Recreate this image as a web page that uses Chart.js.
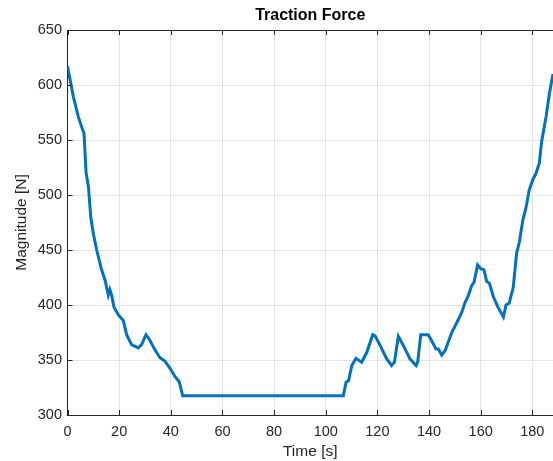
<!DOCTYPE html>
<html>
<head>
<meta charset="utf-8">
<script src="https://cdn.jsdelivr.net/npm/chart.js@4.4.1/dist/chart.umd.min.js"></script>
<style>
html,body{margin:0;padding:0;background:#fff;}
#wrap{width:553px;height:461px;position:relative;}
</style>
</head>
<body>
<div id="wrap"><canvas id="c" width="553" height="461"></canvas></div>
<script>
const timeS = [0,2.3,4.2,5.9,6.4,7.2,8.1,9.0,10.0,11.3,13.2,14.5,15.8,16.4,17.1,18.0,19.7,21.6,22.9,24.8,27.4,28.7,30.4,31.9,33.9,35.8,37.7,39.7,41.6,43.3,44.6,
  106.8,107.9,108.8,110.1,111.7,113.9,115.9,118.2,119.1,121.0,123.6,125.5,126.6,128.1,130.1,132.6,135.0,135.6,136.8,139.7,141.0,142.7,143.6,144.9,146.2,148.8,151.4,152.6,153.9,155.2,156.5,157.4,158.8,160.0,161.3,162.3,163.4,164.9,166.7,168.8,169.8,171.0,172.6,173.9,175.0,176.3,177.5,178.8,180.1,181.4,182.7,183.6,185.3,186.6,188.0];
const forceN = [617,589,571,559,556,520,508,480,465,450,432,423,409,414,409,398,391,386,373,364,361,364,373,368,359,352,349,342.5,335,330,317.5,
  317.5,330,331,345,351.5,348,357,373,372,363.5,351,345,348,371.5,363,351,345,348,373,373,367.5,360,360,354.5,358.5,375,387,393,402,408.5,417.5,420.5,436.5,433,432,421.5,419.7,407.5,398,389,400,401.5,416,447,457.5,477,488,504.5,513.5,519.7,529,548.5,571,592,610];
const xTicks = [0,20,40,60,80,100,120,140,160,180];
const yTicks = [300,350,400,450,500,550,600,650];

const axisColor = '#262626';
const gridColor = '#e3e3e3';
const fontFam = '"Liberation Sans", Arial, Helvetica, sans-serif';

const boxPlugin = {
  id: 'box',
  afterDraw(chart) {
    const {ctx, chartArea: a, scales: {x, y}} = chart;
    ctx.save();
    ctx.strokeStyle = axisColor;
    ctx.lineWidth = 1;
    ctx.beginPath();
    ctx.moveTo(a.left, a.top + 0.5);
    ctx.lineTo(a.right, a.top + 0.5);
    xTicks.forEach(v => {
      const px = Math.round(x.getPixelForValue(v)) + 0.5;
      ctx.moveTo(px, a.bottom); ctx.lineTo(px, a.bottom - 5);
      ctx.moveTo(px, a.top); ctx.lineTo(px, a.top + 5);
    });
    yTicks.forEach(v => {
      const py = Math.round(y.getPixelForValue(v)) + 0.5;
      ctx.moveTo(a.left, py); ctx.lineTo(a.left + 5, py);
    });
    ctx.stroke();
    ctx.restore();
  }
};

new Chart(document.getElementById('c'), {
  type: 'line',
  data: {
    datasets: [{
      data: timeS.map((t, i) => ({x: t, y: forceN[i]})),
      borderColor: '#0072BD',
      borderWidth: 3,
      pointRadius: 0,
      tension: 0,
      fill: false
    }]
  },
  options: {
    responsive: false,
    animation: false,
    layout: {padding: {left: 0, right: 0, top: 0, bottom: 0}},
    plugins: {
      legend: {display: false},
      tooltip: {enabled: false},
      title: {
        display: true,
        text: 'Traction Force',
        color: '#000',
        fullSize: false,
        font: {family: fontFam, size: 16, weight: 'bold'},
        padding: {top: 5.9, bottom: 4.9}
      }
    },
    scales: {
      x: {
        type: 'linear',
        min: 0, max: 188,
        afterFit(s) { s.height = 46; },
        afterBuildTicks(s) { s.ticks = xTicks.map(v => ({value: v})); },
        ticks: {color: axisColor, font: {family: fontFam, size: 14.5}, padding: 8, maxRotation: 0, autoSkip: false, includeBounds: false},
        grid: {color: gridColor, drawTicks: false, tickLength: 0},
        border: {color: axisColor, width: 1},
        title: {display: true, text: 'Time [s]', color: axisColor, font: {family: fontFam, size: 15.5}, padding: {top: 0, bottom: 0}}
      },
      y: {
        type: 'linear',
        min: 300, max: 650,
        afterFit(s) { s.width = 67.5; },
        afterBuildTicks(s) { s.ticks = yTicks.map(v => ({value: v})); },
        ticks: {color: axisColor, font: {family: fontFam, size: 14.5}, padding: 5.5, autoSkip: false},
        grid: {color: gridColor, drawTicks: false, tickLength: 0},
        border: {color: axisColor, width: 1},
        title: {display: true, text: 'Magnitude [N]', color: axisColor, font: {family: fontFam, size: 15.5}, padding: {top: 12.2, bottom: 0}}
      }
    }
  },
  plugins: [boxPlugin]
});
</script>
</body>
</html>
